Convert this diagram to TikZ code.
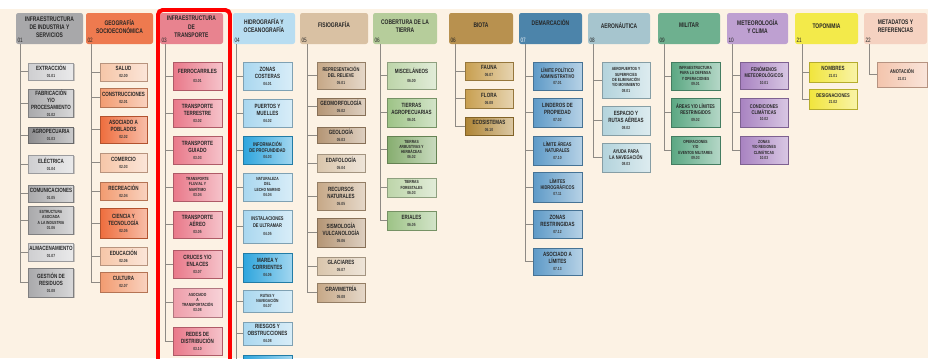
\documentclass[tikz,border=0pt]{standalone}
\usepackage{fontspec}
\setmainfont{Liberation Sans}
\newfontfamily\cnd[FakeStretch=0.74]{Liberation Sans}
\usepackage{tikz}
\usetikzlibrary{shadows}
\definecolor{cream}{HTML}{FCF2E4}
\definecolor{ink}{HTML}{262626}
\definecolor{codegray}{HTML}{3A3A3A}
\definecolor{trunkgray}{HTML}{8E8A84}
\definecolor{hgray}{HTML}{A8A8AA}
\definecolor{horange}{HTML}{EE7A4F}
\definecolor{hpink}{HTML}{E8838F}
\definecolor{hsky}{HTML}{B8DDF1}
\definecolor{htan}{HTML}{D9C1A3}
\definecolor{hsage}{HTML}{B6CD9B}
\definecolor{hgold}{HTML}{B8914F}
\definecolor{hsteel}{HTML}{4C84AA}
\definecolor{haero}{HTML}{A6C5CE}
\definecolor{hmil}{HTML}{6EB08F}
\definecolor{hclim}{HTML}{BEA0D1}
\definecolor{htopo}{HTML}{F3EA4A}
\definecolor{hmeta}{HTML}{F5D2C1}
\definecolor{gryA}{HTML}{CFCFD1}
\definecolor{gryB}{HTML}{A9A9AB}
\definecolor{gryC}{HTML}{8C8C8E}
\definecolor{orgA}{HTML}{F6C6A8}
\definecolor{orgB}{HTML}{F29B70}
\definecolor{orgC}{HTML}{EE6D3D}
\definecolor{pnkA}{HTML}{E97889}
\definecolor{pnkB}{HTML}{EE9DA9}
\definecolor{skyA}{HTML}{A9D7EF}
\definecolor{skyB}{HTML}{2EA5DD}
\definecolor{tanA}{HTML}{C6A887}
\definecolor{tanB}{HTML}{B49574}
\definecolor{tanC}{HTML}{D9C5AB}
\definecolor{grnA}{HTML}{9DC386}
\definecolor{grnB}{HTML}{BDD5A9}
\definecolor{grnC}{HTML}{86AD6F}
\definecolor{gldA}{HTML}{C89F50}
\definecolor{gldB}{HTML}{AE8434}
\definecolor{bluA}{HTML}{5E9AC7}
\definecolor{aerA}{HTML}{B3D3DC}
\definecolor{milA}{HTML}{5AA782}
\definecolor{clmA}{HTML}{A882C1}
\definecolor{topA}{HTML}{F1E53C}
\definecolor{metA}{HTML}{F3C4AC}
\newcommand{\kidfont}{\cnd\bfseries\fontsize{5.2}{5.9}\selectfont}
\newcommand{\kidmd}{\cnd\bfseries\fontsize{4.6}{5.3}\selectfont}
\newcommand{\kidsm}{\cnd\bfseries\fontsize{3.8}{4.5}\selectfont}
\newcommand{\codefont}{\cnd\fontsize{3.8}{4.4}\selectfont}
\newcommand{\headfont}{\cnd\bfseries\fontsize{5.7}{7.1}\selectfont}
\newcommand{\numfont}{\cnd\fontsize{5.4}{6.4}\selectfont}
\newcommand{\cod}[1]{{\codefont\color{codegray}#1}}

\begin{document}
\begin{tikzpicture}[x=0.3mm,y=-0.3mm]
\tikzstyle{head}=[rectangle,rounded corners=2pt,inner sep=0pt]
\tikzstyle{num}=[anchor=south west,inner sep=1.3pt,font=\numfont,text=ink]
\tikzstyle{trunk}=[draw=trunkgray,line width=0.6pt]
\tikzstyle{sm}=[font=\kidsm]
\tikzstyle{md}=[font=\kidmd]
\tikzstyle{redframe}=[draw=red,line width=3.4pt,rounded corners=4pt]
\tikzset{wd/.style={minimum width=#1*0.3mm},ht/.style={minimum height=#1*0.3mm},
  kid/.style={rectangle,left color=#1,right color=#1!45!white,draw=#1!75!black,line width=0.25pt,
    drop shadow={shadow xshift=1.1pt,shadow yshift=-1.1pt,opacity=0.4},
    align=center,inner sep=0.5pt,font=\kidfont,text=ink},
  ttl/.style={anchor=center,yshift=-#1*0.3mm,align=center,font=\headfont,text=ink,inner sep=0pt}}
\useasboundingbox (0,0) rectangle (928,358);
\clip (0,0) rectangle (928,358);
\fill[cream] (0,0) rectangle (928,358);
\fill[white] (0,0) rectangle (928,9);

\node[head,fill=hgray,wd=67,ht=31,label={[num]south west:01},label={[ttl=14.5]90:INFRAESTRUCTURA\\DE INDUSTRIA Y\\SERVICIOS}] (h01) at (49.5,28.5) {};
\node[head,fill=horange,wd=67,ht=31,label={[num]south west:02},label={[ttl=13.5]90:GEOGRAFÍA\\SOCIOECONÓMICA}] (h02) at (119.5,28.5) {};
\node[head,fill=hpink,wd=63,ht=31,label={[num]south west:03},label={[ttl=14]90:INFRAESTRUCTURA\\DE\\TRANSPORTE}] (h03) at (191.5,28.5) {};
\node[head,fill=hsky,wd=62,ht=31,label={[num]south west:04},label={[ttl=13]90:HIDROGRAFÍA Y\\OCEANOGRAFÍA}] (h04) at (264,28.5) {};
\node[head,fill=htan,wd=68,ht=31,label={[num]south west:05},label={[ttl=12]90:FISIOGRAFÍA}] (h05) at (334,28.5) {};
\node[head,fill=hsage,wd=64,ht=31,label={[num]south west:06},label={[ttl=13.5]90:COBERTURA DE LA\\TIERRA}] (h06) at (405,28.5) {};
\node[head,fill=hgold,wd=64,ht=31,label={[num]south west:06},label={[ttl=12]90:BIOTA}] (hbio) at (481,28.5) {};
\node[head,fill=hsteel,wd=63,ht=31,label={[num,text=white]south west:07},label={[ttl=9.5]90:DEMARCACIÓN}] (h07) at (550.5,28.5) {};
\node[head,fill=haero,wd=62,ht=31,label={[num]south west:08},label={[ttl=13]90:AERONÁUTICA}] (h08) at (619,28.5) {};
\node[head,fill=hmil,wd=62,ht=31,label={[num]south west:09},label={[ttl=12.5]90:MILITAR}] (h09) at (689,28.5) {};
\node[head,fill=hclim,wd=61,ht=31,label={[num]south west:10},label={[ttl=13.5]90:METEOROLOGÍA\\Y CLIMA}] (h10) at (757.5,28.5) {};
\node[head,fill=htopo,wd=63,ht=31,label={[num]south west:21},label={[ttl=13]90:TOPONIMIA}] (h21) at (826.5,28.5) {};
\node[head,fill=hmeta,wd=63,ht=31,label={[num]south west:22},label={[ttl=13.5]90:METADATOS Y\\REFERENCIAS}] (h22) at (895.5,28.5) {};

\node[kid=gryA,wd=45,ht=17] (c0101) at (51,71.5) {EXTRACCIÓN\\\cod{01.01}};
\node[kid=gryB,wd=45,ht=28] (c0102) at (51,103) {FABRICACIÓN\\Y/O\\PROCESAMIENTO\\\cod{01.02}};
\node[kid=gryC,wd=45,ht=16] (c0103) at (51,135) {AGROPECUARIA\\\cod{01.03}};
\node[kid=gryA,wd=45,ht=18] (c0104) at (51,164) {ELÉCTRICA\\\cod{01.04}};
\node[kid=gryB,wd=45,ht=17] (c0105) at (51,193.5) {COMUNICACIONES\\\cod{01.05}};
\node[kid=gryB,sm,wd=45,ht=28] (c0106) at (51,220) {ESTRUCTURA\\ASOCIADA\\A LA INDUSTRIA\\\cod{01.06}};
\node[kid=gryA,wd=45,ht=18] (c0107) at (51,252) {ALMACENAMIENTO\\\cod{01.07}};
\node[kid=gryB,wd=45,ht=29] (c0108) at (51,282.5) {GESTIÓN DE\\RESIDUOS\\\cod{01.08}};

\node[kid=orgA,wd=47,ht=18] (c0200) at (123.5,72) {SALUD\\\cod{02.00}};
\node[kid=orgB,wd=47,ht=19] (c0201) at (123.5,97.5) {CONSTRUCCIONES\\\cod{02.01}};
\node[kid=orgC,wd=47,ht=27] (c0202) at (123.5,129.5) {ASOCIADO A\\POBLADOS\\\cod{02.02}};
\node[kid=orgA,wd=47,ht=19] (c0203) at (123.5,162.5) {COMERCIO\\\cod{02.03}};
\node[kid=orgB,wd=47,ht=18] (c0204) at (123.5,191) {RECREACIÓN\\\cod{02.04}};
\node[kid=orgC,wd=47,ht=30] (c0205) at (123.5,223) {CIENCIA Y\\TECNOLOGÍA\\\cod{02.05}};
\node[kid=orgA,wd=47,ht=18] (c0206) at (123.5,256) {EDUCACIÓN\\\cod{02.06}};
\node[kid=orgB,wd=47,ht=20] (c0207) at (123.5,282) {CULTURA\\\cod{02.07}};

\node[kid=pnkA,wd=49,ht=28] (c0301) at (197.5,76) {FERROCARRILES\\[2pt]\cod{03.01}};
\node[kid=pnkA,wd=49,ht=28] (c0302) at (197.5,113) {TRANSPORTE\\TERRESTRE\\\cod{03.02}};
\node[kid=pnkA,wd=49,ht=28] (c0303) at (197.5,150) {TRANSPORTE\\GUIADO\\\cod{03.03}};
\node[kid=pnkA,sm,wd=49,ht=28] (c0304) at (197.5,187) {TRANSPORTE\\FLUVIAL Y\\MARÍTIMO\\\cod{03.04}};
\node[kid=pnkA,wd=49,ht=27] (c0305) at (197.5,224.5) {TRANSPORTE\\AÉREO\\\cod{03.05}};
\node[kid=pnkA,wd=49,ht=28] (c0307) at (197.5,264) {CRUCES Y/O\\ENLACES\\\cod{03.07}};
\node[kid=pnkB,sm,wd=49,ht=29] (c0308) at (197.5,302.5) {ASOCIADO\\A\\TRANSPORTACIÓN\\\cod{03.08}};
\node[kid=pnkA,wd=49,ht=28] (c0310) at (197.5,341) {REDES DE\\DISTRIBUCIÓN\\\cod{03.10}};

\node[kid=skyA,wd=49,ht=28] (c0401) at (267.5,76) {ZONAS\\COSTERAS\\\cod{04.01}};
\node[kid=skyA,wd=49,ht=28] (c0402) at (267.5,113) {PUERTOS Y\\MUELLES\\\cod{04.02}};
\node[kid=skyB,md,wd=49,ht=28] (c0403) at (267.5,150) {INFORMACIÓN\\DE PROFUNDIDAD\\\cod{04.03}};
\node[kid=skyA,sm,wd=49,ht=28] (c0404) at (267.5,187) {NATURALEZA\\DEL\\LECHO MARINO\\\cod{04.04}};
\node[kid=skyA,md,wd=49,ht=33] (c0405) at (267.5,226.5) {INSTALACIONES\\DE ULTRAMAR\\[2pt]\cod{04.05}};
\node[kid=skyB,wd=49,ht=29] (c0406) at (267.5,267.5) {MAREA Y\\CORRIENTES\\\cod{04.06}};
\node[kid=skyA,sm,wd=49,ht=22] (c0407) at (267.5,301) {RUTAS Y\\NAVEGACIÓN\\\cod{04.07}};
\node[kid=skyA,wd=49,ht=23] (c0408) at (267.5,333.5) {RIESGOS Y\\OBSTRUCCIONES\\\cod{04.08}};
\node[kid=skyB,wd=49,ht=28] (c0409) at (267.5,369) {};

\node[kid=tanA,md,wd=48,ht=27] (c0501) at (341,75.5) {REPRESENTACIÓN\\DEL RELIEVE\\\cod{05.01}};
\node[kid=tanB,wd=48,ht=17] (c0502) at (341,106.5) {GEOMORFOLOGÍA\\\cod{05.02}};
\node[kid=tanB,wd=48,ht=16] (c0503) at (341,135) {GEOLOGÍA\\\cod{05.03}};
\node[kid=tanC,wd=48,ht=18] (c0504) at (341,163) {EDAFOLOGÍA\\\cod{05.04}};
\node[kid=tanA,wd=48,ht=28] (c0505) at (341,196) {RECURSOS\\NATURALES\\\cod{05.05}};
\node[kid=tanB,wd=48,ht=29] (c0506) at (341,232.5) {SISMOLOGÍA\\VULCANOLOGÍA\\\cod{05.06}};
\node[kid=tanC,wd=48,ht=18] (c0507) at (341,266) {GLACIARES\\\cod{05.07}};
\node[kid=tanA,wd=48,ht=19] (c0508) at (341,292.5) {GRAVIMETRÍA\\\cod{05.08}};

\node[kid=grnB,wd=49,ht=27] (c0600) at (411.5,75.5) {MISCELÁNEOS\\[2pt]\cod{06.00}};
\node[kid=grnA,wd=49,ht=29] (c0601) at (411.5,112.5) {TIERRAS\\AGROPECUARIAS\\\cod{06.01}};
\node[kid=grnC,sm,wd=49,ht=27] (c0602) at (411.5,149.5) {TIERRAS\\ARBUSTIVAS Y\\HERBÁCEAS\\\cod{06.02}};
\node[kid=grnB,sm,wd=49,ht=19] (c0603) at (411.5,187.5) {TIERRAS\\FORESTALES\\\cod{06.03}};
\node[kid=grnA,wd=49,ht=19] (c0605) at (411.5,220.5) {ERIALES\\\cod{06.05}};

\node[kid=gldA,wd=48,ht=18] (c0607) at (489,71) {FAUNA\\\cod{06.07}};
\node[kid=gldA,wd=48,ht=19] (c0608) at (489,98.5) {FLORA\\\cod{06.08}};
\node[kid=gldB,wd=48,ht=18] (c0610) at (489,126) {ECOSISTEMAS\\\cod{06.10}};

\node[kid=bluA,md,wd=49,ht=28] (c0701) at (557.5,76) {LÍMITE POLÍTICO\\ADMINISTRATIVO\\\cod{07.01}};
\node[kid=bluA,wd=49,ht=29] (c0702) at (557.5,112.5) {LINDEROS DE\\PROPIEDAD\\\cod{07.02}};
\node[kid=bluA,md,wd=49,ht=29] (c0710) at (557.5,150.5) {LÍMITE ÁREAS\\NATURALES\\\cod{07.10}};
\node[kid=bluA,md,wd=49,ht=30] (c0711) at (557.5,187) {LÍMITES\\HIDROGRÁFICOS\\\cod{07.11}};
\node[kid=bluA,wd=49,ht=28] (c0712) at (557.5,224) {ZONAS\\RESTRINGIDAS\\\cod{07.12}};
\node[kid=bluA,wd=49,ht=27] (c0713) at (557.5,261.5) {ASOCIADO A\\LÍMITES\\\cod{07.13}};

\node[kid=aerA,sm,wd=48,ht=36] (c0801) at (626,80) {AEROPUERTOS Y\\SUPERFICIES\\DE ELIMINACIÓN\\Y/O MOVIMIENTO\\\cod{08.01}};
\node[kid=aerA,wd=48,ht=29] (c0802) at (626,120.5) {ESPACIO Y\\RUTAS AÉREAS\\\cod{08.02}};
\node[kid=aerA,md,wd=48,ht=29] (c0803) at (626,157.5) {AYUDA PARA\\LA NAVEGACIÓN\\\cod{08.03}};

\node[kid=milA,sm,wd=49,ht=28] (c0901) at (695.5,76) {INFRAESTRUCTURA\\PARA LA DEFENSA\\Y OPERACIONES\\\cod{09.01}};
\node[kid=milA,md,wd=49,ht=29] (c0902) at (695.5,112.5) {ÁREAS Y/O LÍMITES\\RESTRINGIDOS\\\cod{09.02}};
\node[kid=milA,sm,wd=49,ht=28] (c0903) at (695.5,150) {OPERACIONES\\Y/O\\EVENTOS MILITARES\\\cod{09.03}};

\node[kid=clmA,md,wd=48,ht=27] (c1001) at (764,75.5) {FENÓMENOS\\METEOROLÓGICOS\\\cod{10.01}};
\node[kid=clmA,md,wd=48,ht=29] (c1002) at (764,112.5) {CONDICIONES\\CLIMÁTICAS\\\cod{10.02}};
\node[kid=clmA,sm,wd=48,ht=28] (c1003) at (764,150) {ZONAS\\Y/O REGIONES\\CLIMÁTICAS\\\cod{10.03}};

\node[kid=topA,wd=48,ht=20] (c2101) at (833,72) {NOMBRES\\\cod{21.01}};
\node[kid=topA,md,wd=48,ht=20] (c2102) at (833,99) {DESIGNACIONES\\\cod{21.02}};

\node[kid=metA,md,wd=50,ht=25] (c2201) at (902,74.5) {ANOTACIÓN\\[1pt]\cod{21.01}};

\coordinate (t01) at (20,44);
\coordinate (t02) at (91,44);
\coordinate (t03) at (165,44);
\coordinate (t04) at (236,44);
\coordinate (t05) at (307,44);
\coordinate (t06) at (380,44);
\coordinate (tbio) at (455,44);
\coordinate (t07) at (525,44);
\coordinate (t08) at (593,44);
\coordinate (t09) at (664,44);
\coordinate (t10) at (732,44);
\coordinate (t21) at (802,44);
\coordinate (t22) at (869,44);
\foreach \k in {c0101,c0102,c0103,c0104,c0105,c0106,c0107,c0108} \draw[trunk] (t01) |- (\k.west);
\foreach \k in {c0200,c0201,c0202,c0203,c0204,c0205,c0206,c0207} \draw[trunk] (t02) |- (\k.west);
\foreach \k in {c0301,c0302,c0303,c0304,c0305,c0307,c0308,c0310} \draw[trunk] (t03) |- (\k.west);
\foreach \k in {c0401,c0402,c0403,c0404,c0405,c0406,c0407,c0408,c0409} \draw[trunk] (t04) |- (\k.west);
\foreach \k in {c0501,c0502,c0503,c0504,c0505,c0506,c0507,c0508} \draw[trunk] (t05) |- (\k.west);
\foreach \k in {c0600,c0601,c0602,c0603,c0605} \draw[trunk] (t06) |- (\k.west);
\foreach \k in {c0607,c0608,c0610} \draw[trunk] (tbio) |- (\k.west);
\foreach \k in {c0701,c0702,c0710,c0711,c0712,c0713} \draw[trunk] (t07) |- (\k.west);
\foreach \k in {c0801,c0802,c0803} \draw[trunk] (t08) |- (\k.west);
\foreach \k in {c0901,c0902,c0903} \draw[trunk] (t09) |- (\k.west);
\foreach \k in {c1001,c1002,c1003} \draw[trunk] (t10) |- (\k.west);
\foreach \k in {c2101,c2102} \draw[trunk] (t21) |- (\k.west);
\draw[trunk] (t22) |- (c2201.west);

\draw[redframe] (158,10) rectangle (230,380);
\end{tikzpicture}
\end{document}
